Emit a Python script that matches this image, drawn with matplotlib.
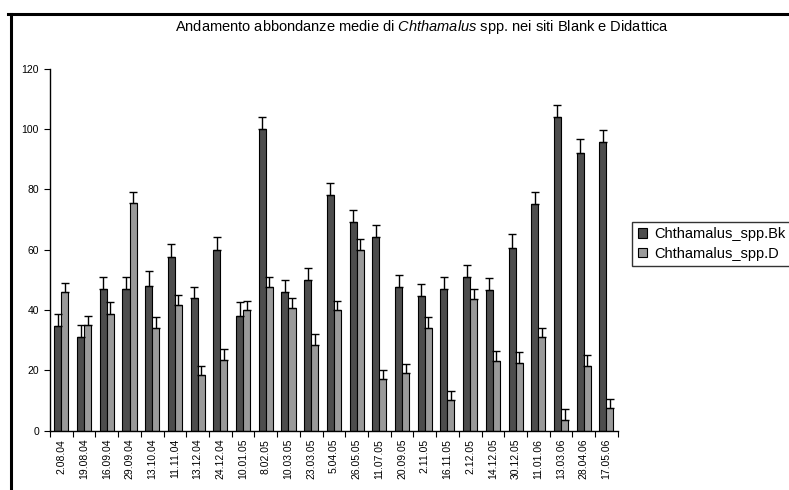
import numpy as np
import matplotlib
matplotlib.use("Agg")
import matplotlib.pyplot as plt
from matplotlib.lines import Line2D

plt.rcParams['font.family'] = ['Liberation Sans', 'DejaVu Sans']
plt.rcParams['mathtext.fontset'] = 'custom'
plt.rcParams['mathtext.rm'] = 'Liberation Sans'
plt.rcParams['mathtext.it'] = 'Liberation Sans:italic'

dates = ['2.08.04', '19.08.04', '16.09.04', '29.09.04', '13.10.04', '11.11.04',
         '13.12.04', '24.12.04', '10.01.05', '8.02.05', '10.03.05', '23.03.05',
         '5.04.05', '26.05.05', '11.07.05', '20.09.05', '2.11.05', '16.11.05',
         '2.12.05', '14.12.05', '30.12.05', '11.01.06', '13.03.06', '28.04.06',
         '17.05.06']
bk = [34.5, 31, 47, 47, 48, 57.5, 44, 60, 38, 100, 46, 50, 78, 69, 64,
      47.5, 44.5, 47, 51, 46.5, 60.5, 75, 104, 92, 95.5]
bk_err = [4, 4, 4, 4, 5, 4.5, 3.5, 4, 4.5, 4, 4, 4, 4, 4, 4,
          4, 4, 4, 4, 4, 4.5, 4, 4, 4.5, 4]
d = [46, 35, 38.5, 75.5, 34, 41.5, 18.5, 23.5, 40, 47.5, 40.5, 28.5, 40, 60, 17,
     19, 34, 10, 43.5, 23, 22.5, 31, 3.5, 21.5, 7.5]
d_err = [3, 3, 4, 3.5, 3.5, 3.5, 3, 3.5, 3, 3.5, 3.5, 3.5, 3, 3.5, 3,
         3, 3.5, 3, 3.5, 3.5, 3.5, 3, 3.5, 3.5, 3]

fig = plt.figure(figsize=(7.89, 4.90), dpi=100)
ax = fig.add_axes([0.0634, 0.1214, 0.7196, 0.7386])

x = np.arange(len(dates))
w = 0.31
ax.bar(x - w / 2, bk, w, color='#4d4d4d', edgecolor='black', linewidth=0.8,
       label='Chthamalus_spp.Bk',
       yerr=[np.zeros(len(bk)), bk_err],
       error_kw=dict(ecolor='black', elinewidth=1, capsize=3, capthick=1))
ax.bar(x + w / 2, d, w, color='#9a9a9a', edgecolor='black', linewidth=0.8,
       label='Chthamalus_spp.D',
       yerr=[np.zeros(len(d)), d_err],
       error_kw=dict(ecolor='black', elinewidth=1, capsize=3, capthick=1))

ax.set_xlim(-0.5, len(dates) - 0.5)
ax.set_ylim(0, 120)
ax.set_yticks(np.arange(0, 121, 20))
ax.tick_params(axis='y', labelsize=7.5, length=4, direction='out', pad=4)

ax.set_xticks(np.arange(len(dates) + 1) - 0.5)
ax.set_xticklabels([])
ax.tick_params(axis='x', which='major', length=4, direction='out')
ax.set_xticks(x, minor=True)
ax.set_xticklabels(dates, minor=True, rotation=90, fontsize=7.5)
ax.tick_params(axis='x', which='minor', length=0, pad=6)

for s in ['top', 'right']:
    ax.spines[s].set_visible(False)
for s in ['left', 'bottom']:
    ax.spines[s].set_linewidth(1)

fig.text(0.535, 0.945,
         r'Andamento abbondanze medie di $\it{Chthamalus}$ spp. nei siti Blank e Didattica',
         ha='center', va='center', fontsize=10.5)

leg = ax.legend(loc='center left', bbox_to_anchor=(0.801, 0.502),
                bbox_transform=fig.transFigure, fontsize=10.5, frameon=True,
                fancybox=False, handlelength=0.65, handleheight=0.65,
                handletextpad=0.5, borderpad=0.4, labelspacing=0.35,
                borderaxespad=0)
leg.get_frame().set_edgecolor('black')
leg.get_frame().set_linewidth(1)

# outer frame (top and left edges only)
fig.add_artist(Line2D([0.010, 1.0], [0.971, 0.971], color='black', linewidth=2.2,
                      transform=fig.transFigure))
fig.add_artist(Line2D([0.014, 0.014], [0.0, 0.971], color='black', linewidth=2.2,
                      transform=fig.transFigure))

fig.savefig('out.png', dpi=100)
